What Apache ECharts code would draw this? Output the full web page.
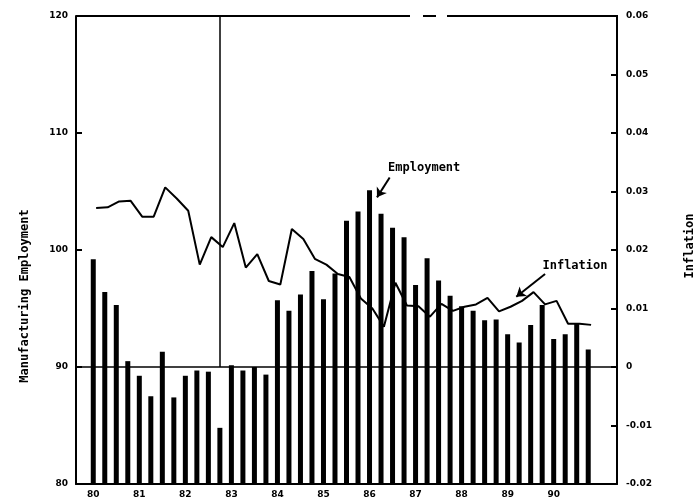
<!DOCTYPE html>
<html>
<head>
<meta charset="utf-8">
<script src="https://cdn.jsdelivr.net/npm/echarts@6/dist/echarts.min.js"></script>
<style>
  html, body { margin: 0; padding: 0; background: #fff; }
  #chart { width: 700px; height: 499px; }
</style>
</head>
<body>
<div id="chart"></div>
<script>
// Year tick labels (one per year, first quarter)
const years = ['80', '81', '82', '83', '84', '85', '86', '87', '88', '89', '90'];

// Quarterly manufacturing employment index (left axis, bars)
const employment = [
  99.2, 96.4, 95.3, 90.5, 89.25, 87.5, 91.3, 87.4, 89.25, 89.7,
  89.6, 84.8, 90.15, 89.7, 90.0, 89.35, 95.7, 94.8, 96.2, 98.2,
  95.8, 98.0, 102.5, 103.3, 105.1, 103.1, 101.9, 101.1, 97.0, 99.3,
  97.4, 96.1, 95.2, 94.8, 94.0, 94.05, 92.8, 92.1, 93.6, 95.3,
  92.4, 92.8, 93.7, 91.5
];

// Quarterly inflation rate (right axis, line)
const inflation = [
  0.0272, 0.0273, 0.0283, 0.0284, 0.0257, 0.0257, 0.0307, 0.0288, 0.0267, 0.0175,
  0.0222, 0.0205, 0.0246, 0.0170, 0.0193, 0.0147, 0.0141, 0.0236, 0.0219, 0.0185,
  0.0175, 0.0159, 0.0154, 0.0117, 0.0100, 0.0069, 0.0144, 0.0105, 0.0104, 0.0086,
  0.0108, 0.0096, 0.0103, 0.0107, 0.0118, 0.0095, 0.0103, 0.0113, 0.0128, 0.0107,
  0.0113, 0.0074, 0.0074, 0.0072
];

const quarterNames = [];
years.forEach(y => { for (let q = 1; q <= 4; q++) quarterNames.push(y + 'Q' + q); });
// one empty slot before the first quarter, two after the last
const categories = ['pre'].concat(quarterNames, ['post1', 'post2']);

const tickFont = { color: '#000', fontFamily: 'DejaVu Sans', fontWeight: 'bold', fontSize: 9 };
const monoFont = 'bold 12px "DejaVu Sans Mono"';
const black = '#000';

const chart = echarts.init(document.getElementById('chart'), null, { renderer: 'canvas' });

const option = {
  animation: false,
  backgroundColor: '#fff',
  grid: { left: 76, right: 83, top: 16, bottom: 13 },
  xAxis: [
    {
      type: 'category',
      data: categories,
      boundaryGap: true,
      axisLine: { show: true, onZero: false, lineStyle: { color: black, width: 2 } },
      axisTick: { show: false },
      splitLine: { show: false },
      axisLabel: Object.assign({
        interval: 0,
        margin: 6,
        formatter: v => (v.endsWith('Q1') ? v.slice(0, 2) : '')
      }, tickFont)
    },
    {
      // quarter-index axis for the inflation line, shifted a quarter step right
      type: 'value',
      min: -1.75,
      max: 45.25,
      show: false,
      axisLine: { onZero: false }
    }
  ],
  yAxis: [
    {
      type: 'value',
      position: 'left',
      min: 80,
      max: 120,
      interval: 10,
      axisLine: { show: true, onZero: false, lineStyle: { color: black, width: 2 } },
      axisTick: { show: true, inside: true, length: 6, lineStyle: { color: black, width: 2 } },
      splitLine: { show: false },
      axisLabel: Object.assign({ margin: 8 }, tickFont)
    },
    {
      type: 'value',
      position: 'right',
      min: -0.02,
      max: 0.06,
      interval: 0.01,
      axisLine: { show: true, onZero: false, lineStyle: { color: black, width: 2 } },
      axisTick: { show: true, inside: true, length: 6, lineStyle: { color: black, width: 2 } },
      splitLine: { show: false },
      axisLabel: Object.assign({
        margin: 9,
        formatter: v => (Math.abs(v) < 1e-9 ? '0' : v.toFixed(2))
      }, tickFont)
    }
  ],
  series: [
    {
      name: 'Employment',
      type: 'bar',
      xAxisIndex: 0,
      yAxisIndex: 0,
      barWidth: 5,
      itemStyle: { color: black },
      data: employment.map((v, i) => [quarterNames[i], v]),
      markLine: {
        silent: true,
        symbol: 'none',
        label: { show: false },
        lineStyle: { color: black, width: 1.5, type: 'solid' },
        data: [
          { yAxis: 90 },
          [{ coord: [quarterNames[11], 120] }, { coord: [quarterNames[11], 90] }]
        ]
      }
    },
    {
      name: 'Inflation',
      type: 'line',
      xAxisIndex: 1,
      yAxisIndex: 1,
      showSymbol: false,
      symbol: 'none',
      lineStyle: { color: black, width: 2 },
      data: inflation.map((v, i) => [i, v]),
      markLine: {
        silent: true,
        symbol: ['none', 'arrow'],
        symbolSize: 9,
        label: { show: false },
        lineStyle: { color: black, width: 2, type: 'solid' },
        data: [
          [{ coord: [25.5, 0.0324] }, { coord: [24.4, 0.0290] }],
          [{ coord: [39.0, 0.0159] }, { coord: [36.5, 0.0120] }]
        ]
      },
      markPoint: {
        silent: true,
        symbol: 'rect',
        symbolSize: 1,
        itemStyle: { color: 'rgba(0,0,0,0)' },
        label: {
          show: true,
          position: 'inside',
          color: black,
          fontFamily: 'DejaVu Sans Mono',
          fontWeight: 'bold',
          fontSize: 12,
          formatter: p => p.name
        },
        data: [
          { name: 'Employment', coord: [28.5, 0.0340] },
          { name: 'Inflation', coord: [41.6, 0.0173] }
        ]
      }
    }
  ],
  graphic: [
    // top frame edge, with its two breaks
    { type: 'line', shape: { x1: 76, y1: 16, x2: 410, y2: 16 }, style: { stroke: black, lineWidth: 2 } },
    { type: 'line', shape: { x1: 423, y1: 16, x2: 436, y2: 16 }, style: { stroke: black, lineWidth: 2 } },
    { type: 'line', shape: { x1: 447, y1: 16, x2: 618, y2: 16 }, style: { stroke: black, lineWidth: 2 } },
    // axis titles
    {
      type: 'text', x: 25, y: 296, rotation: Math.PI / 2,
      style: { text: 'Manufacturing Employment', font: monoFont, fill: black, textAlign: 'center', textVerticalAlign: 'middle' }
    },
    {
      type: 'text', x: 690, y: 246, rotation: Math.PI / 2,
      style: { text: 'Inflation', font: monoFont, fill: black, textAlign: 'center', textVerticalAlign: 'middle' }
    }
  ]
};

chart.setOption(option);
</script>
</body>
</html>
